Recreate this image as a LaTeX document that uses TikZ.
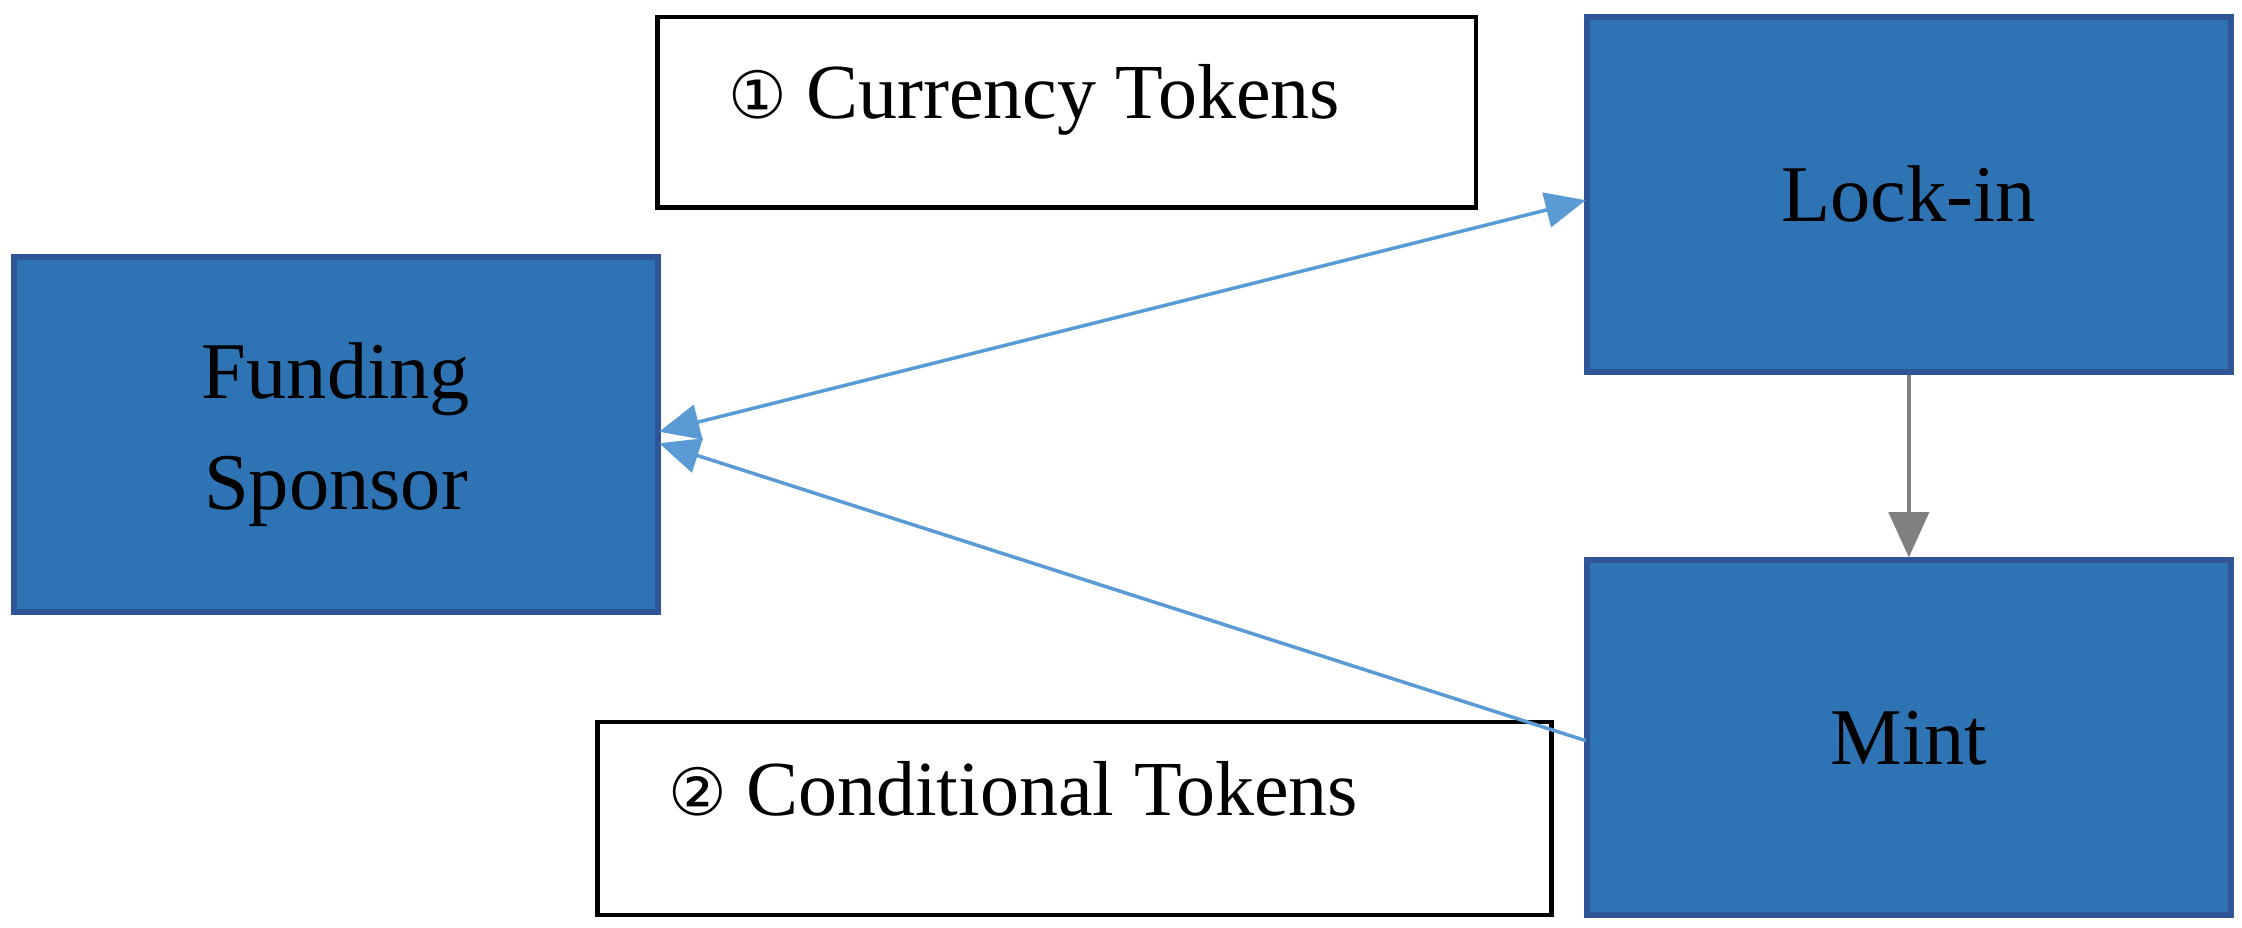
\documentclass[tikz,border=0pt]{standalone}
\usepackage{fontspec}
\setmainfont{Liberation Serif}
\newfontfamily\symf{DejaVu Sans}
\usetikzlibrary{arrows.meta}
\definecolor{boxfill}{HTML}{2E74B5}
\definecolor{boxline}{HTML}{2F5597}
\definecolor{arrowblue}{HTML}{5B9BD5}
\tikzset{
  bluebox/.style={draw=boxline,line width=1.2pt,fill=boxfill,minimum width=4.5cm,minimum height=2.48cm,inner sep=0pt,align=center,font=\fontsize{16}{22}\selectfont},
  labelbox/.style={draw=black,line width=0.9pt,fill=white,inner sep=0pt,font=\fontsize{15.5}{18}\selectfont},
  bluearrow/.style={draw=arrowblue,line width=0.7pt,-{Triangle[length=8pt,width=7pt]}},
}
\begin{document}
\begin{tikzpicture}[x=0.01cm,y=-0.01cm]
\useasboundingbox (0,0) rectangle (1568,649);
\node[bluebox] (fund) at (235,304) {Funding\\Sponsor};
\node[bluebox] (lock) at (1335,136) {Lock-in};
\node[bluebox] (mint) at (1335,516) {Mint};
\node[labelbox,minimum width=5.72cm,minimum height=1.33cm] (cur) at (746,78.5) {};
\node[font=\fontsize{15.5}{18}\selectfont,anchor=west] (curt) at (497,70) {{\symf\fontsize{13}{16}\selectfont ①} Currency Tokens};
\node[labelbox,minimum width=6.67cm,minimum height=1.35cm] (cond) at (751.5,572.5) {};
\node[font=\fontsize{15.5}{18}\selectfont,anchor=west] (condt) at (455,552) {{\symf\fontsize{13}{16}\selectfont ②} Conditional Tokens};
\coordinate (lockw) at (1109,140);
\coordinate (fundA) at (461,302);
\coordinate (fundB) at (461,310);
\coordinate (mintw) at (1109,518);
\draw[bluearrow,{Triangle[length=8pt,width=7pt]}-{Triangle[length=8pt,width=7pt]}] (fundA) -- (lockw);
\draw[bluearrow] (mintw) -- (fundB);
\draw[draw=gray,line width=0.7pt,-{Triangle[length=9pt,width=8pt]}] (lock.south) -- (mint.north);
\end{tikzpicture}
\end{document}
